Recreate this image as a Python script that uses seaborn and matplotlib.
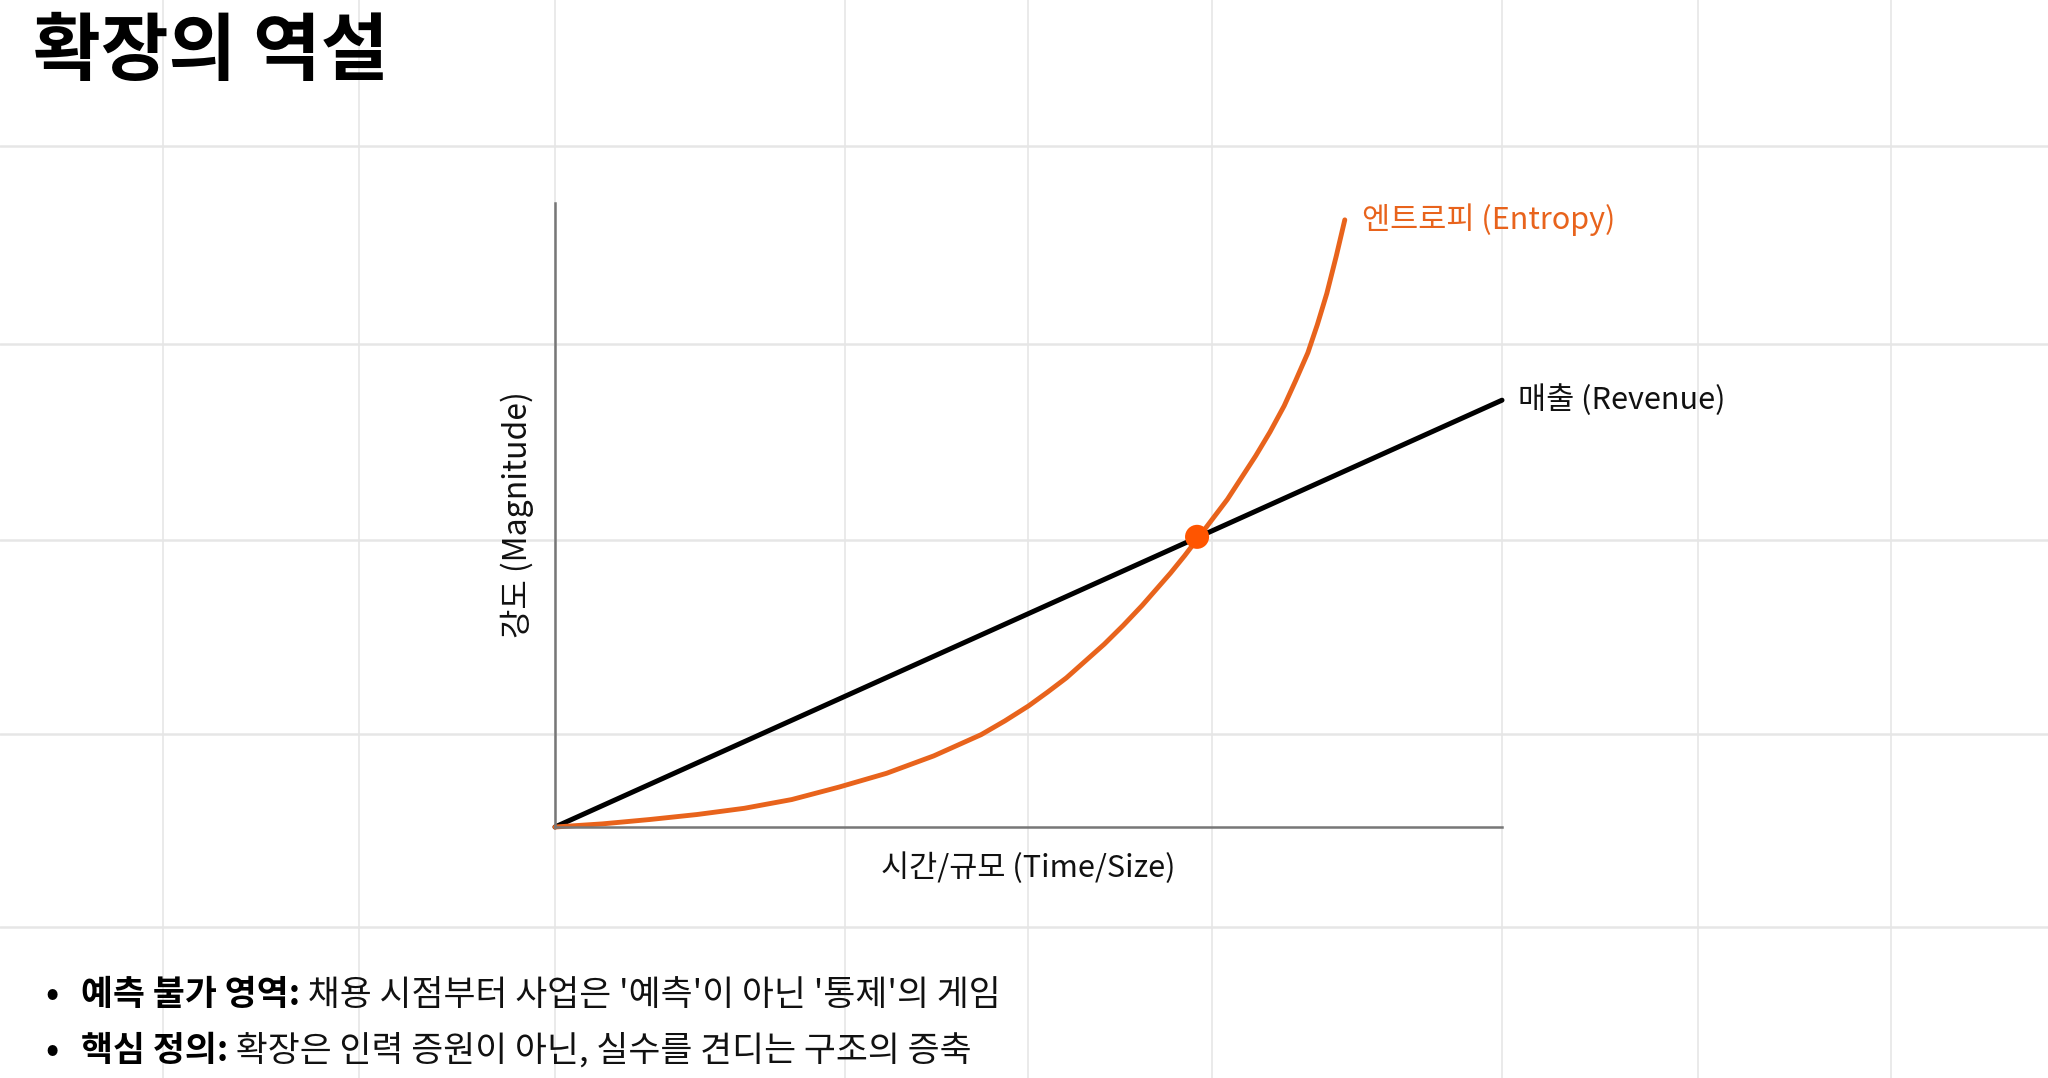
import matplotlib
matplotlib.use('Agg')
import matplotlib.pyplot as plt
from matplotlib.lines import Line2D
import seaborn as sns

# Text
title = '확장의 역설'
x_label = '시간/규모 (Time/Size)'
y_label = '강도 (Magnitude)'
revenue_label = '매출 (Revenue)'
entropy_label = '엔트로피 (Entropy)'
bullets = [
    ('예측 불가 영역:', " 채용 시점부터 사업은 '예측'이 아닌 '통제'의 게임"),
    ('핵심 정의:', ' 확장은 인력 증원이 아닌, 실수를 견디는 구조의 증축'),
]

# Series (axis range 0..10)
revenue_x = [0, 10]
revenue_y = [0, 6.84]

entropy_x = [0, 0.5, 1.0, 1.5, 2.0, 2.5, 3.0, 3.5, 4.0, 4.5, 4.75, 5.0, 5.2, 5.4,
             5.8, 6.0, 6.2, 6.5, 6.65, 6.8, 7.1, 7.4, 7.55, 7.7, 7.82, 7.95,
             8.05, 8.15, 8.25, 8.34]
entropy_y = [0, 0.05, 0.12, 0.2, 0.3, 0.44, 0.64, 0.86, 1.14, 1.48, 1.7, 1.94, 2.16, 2.39,
             2.93, 3.23, 3.55, 4.07, 4.35, 4.65, 5.25, 5.95, 6.33, 6.75, 7.15, 7.6,
             8.05, 8.55, 9.15, 9.73]

cross_x = [6.78]
cross_y = [4.65]

ORANGE = '#E8631C'
DOT = '#FF5500'

sns.set_theme(style='white')
plt.rcParams['font.family'] = ['Noto Sans CJK KR', 'DejaVu Sans']

W, H = 2048, 1078
fig = plt.figure(figsize=(W / 100, H / 100), dpi=100)
fig.patch.set_facecolor('white')

# slide background grid
for gx in [163, 359, 555, 845, 1028, 1212, 1502, 1698, 1891]:
    fig.add_artist(Line2D([gx / W, gx / W], [0, 1], transform=fig.transFigure,
                          color='#e6e6e6', lw=1.2, zorder=-5))
for gy in [146, 344, 540, 734, 927]:
    fig.add_artist(Line2D([0, 1], [1 - gy / H, 1 - gy / H], transform=fig.transFigure,
                          color='#e6e6e6', lw=1.8, zorder=-5))

ax = fig.add_axes([555 / W, 1 - 827 / H, (1502 - 555) / W, (827 - 203) / H])
ax.set_facecolor('none')

sns.lineplot(x=revenue_x, y=revenue_y, ax=ax, color='black', lw=3.6, clip_on=False,
             solid_capstyle='round')
sns.lineplot(x=entropy_x, y=entropy_y, ax=ax, color=ORANGE, lw=3.5, clip_on=False,
             solid_capstyle='round', solid_joinstyle='round')
sns.scatterplot(x=cross_x, y=cross_y, ax=ax, color=DOT, s=300, edgecolor='none',
                zorder=5, clip_on=False)

ax.set_xlim(0, 10)
ax.set_ylim(0, 10)
ax.set_xticks([])
ax.set_yticks([])
for side in ['top', 'right']:
    ax.spines[side].set_visible(False)
for side in ['left', 'bottom']:
    ax.spines[side].set_color('#777777')
    ax.spines[side].set_linewidth(1.8)

ax.set_xlabel(x_label, fontsize=22, color='#111111')
ax.set_ylabel(y_label, fontsize=23, color='#111111')
ax.xaxis.set_label_coords(0.5, -(868 - 827) / 624)
ax.xaxis.label.set_va('center')
ax.yaxis.set_label_coords(-(555 - 517) / 947, 0.5)
ax.yaxis.label.set_va('center')

# end-of-line labels
ax.annotate(entropy_label, xy=(entropy_x[-1], entropy_y[-1]), xytext=(17, 0),
            textcoords='offset pixels', fontsize=22, color=ORANGE,
            fontweight='medium', va='center', ha='left', annotation_clip=False)
ax.annotate(revenue_label, xy=(revenue_x[-1], revenue_y[-1]), xytext=(16, 0),
            textcoords='offset pixels', fontsize=22, color='#111111',
            fontweight='medium', va='center', ha='left', annotation_clip=False)

# title
fig.text(33 / W, 1 - 53 / H, title, fontsize=53, fontweight='heavy', va='center',
         color='black')

# bullets
renderer = fig.canvas.get_renderer()
for i, (head, rest) in enumerate(bullets):
    yb = 1 - (995 + i * 56) / H
    fig.text(45 / W, yb, '•', fontsize=25, fontweight='bold', va='center', color='black')
    t = fig.text(81 / W, yb, head, fontsize=25, fontweight='bold', va='center',
                 color='black')
    bb = t.get_window_extent(renderer)
    fig.text(bb.x1 / W, yb, rest, fontsize=25, va='center', color='#111111')

fig.savefig('out.png', dpi=100)
